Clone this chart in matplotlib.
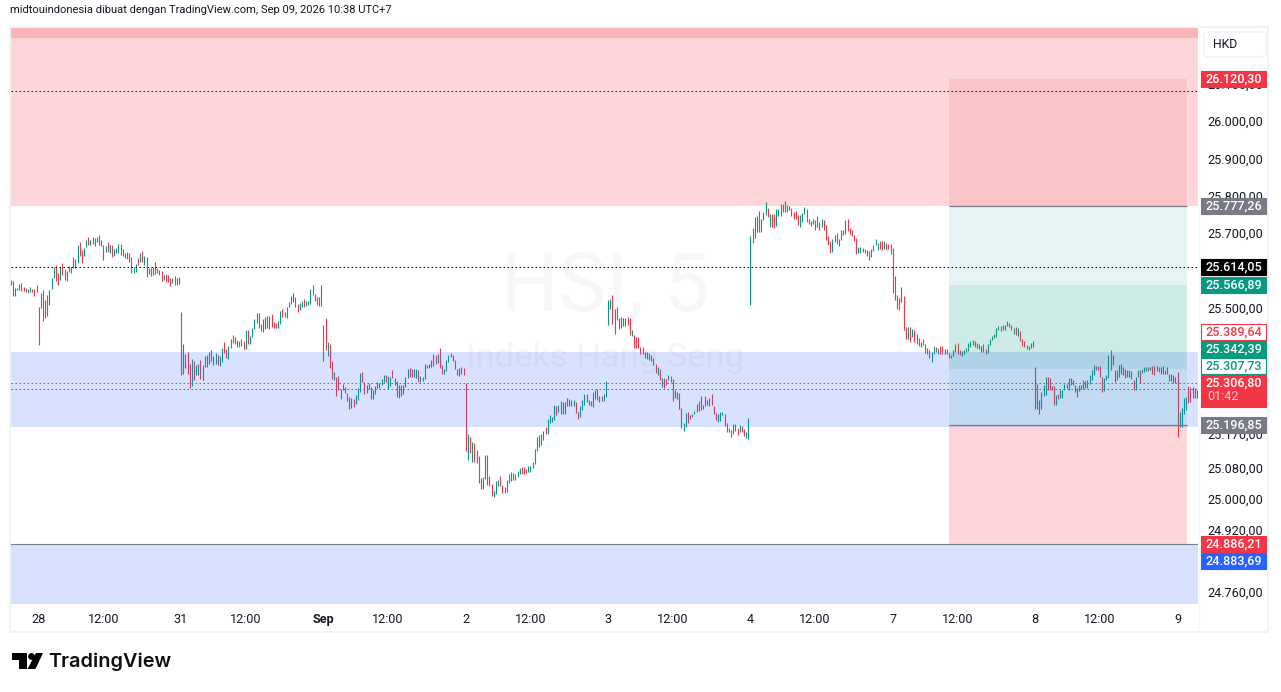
#!/usr/bin/python3

import matplotlib
matplotlib.use("Agg")
import matplotlib.pyplot as plt
from matplotlib.patches import Rectangle, Polygon, Circle, FancyBboxPatch
from matplotlib.transforms import ScaledTranslation

# 5 minute bars as (open, close), one list per session
aug27 = [(25571,25584),(25580,25542),(25542,25564),(25562,25558),(25558,25573),(25576,25556),(25566,25555),
    (25564,25551),(25550,25560),(25552,25566),(25561,25553),(25559,25542),(25553,25571)]

aug28 = [(25513,25412),(25511,25550),(25558,25475),(25483,25532),(25544,25489),(25518,25558),(25560,25589),
    (25588,25618),(25624,25581),(25603,25571),(25584,25619),(25629,25598),(25613,25584),(25581,25608),
    (25620,25604),(25603,25618),(25615,25645),(25616,25640),(25628,25677),(25685,25648),(25664,25629),
    (25648,25669),(25671,25690),(25698,25677),(25677,25690),(25698,25679),(25674,25695),(25685,25698),
    (25703,25677),(25674,25690),(25677,25637),(25658,25674),(25685,25658),(25655,25677),(25677,25645),
    (25648,25666),(25655,25669),(25656,25679),(25679,25650),(25666,25648),(25641,25655),(25658,25640),
    (25656,25632),(25645,25602),(25603,25619),(25606,25626),(25642,25624),(25632,25656),(25661,25632),
    (25624,25648),(25645,25592),(25600,25616),(25616,25595),(25597,25618),(25632,25600),(25616,25603),
    (25597,25611),(25608,25581),(25584,25597),(25599,25579),(25597,25579),(25589,25568),(25576,25589),
    (25595,25571),(25588,25571),(25573,25592)]

aug31 = [(25499,25332),(25335,25415),(25387,25351),(25393,25335),(25362,25297),(25303,25375),(25369,25319),
    (25332,25359),(25332,25362),(25372,25322),(25319,25359),(25354,25383),(25354,25385),(25361,25393),
    (25399,25369),(25358,25383),(25362,25391),(25385,25359),(25356,25383),(25367,25404),(25420,25391),
    (25401,25377),(25375,25409),(25404,25428),(25438,25417),(25433,25415),(25407,25425),(25422,25407),
    (25409,25428),(25422,25401),(25401,25452),(25452,25415),(25415,25436),(25433,25457),(25454,25481),
    (25470,25497),(25497,25457),(25467,25449),(25446,25481),(25454,25486),(25489,25457),(25454,25489),
    (25494,25460),(25473,25457),(25470,25457),(25457,25475),(25467,25502),(25507,25486),(25499,25486),
    (25483,25513),(25513,25526),(25520,25542),(25526,25550),(25539,25513),(25520,25499),(25505,25523),
    (25513,25528),(25534,25513),(25515,25528),(25518,25528),(25520,25560),(25571,25544),(25547,25528),
    (25539,25518),(25539,25515),(25515,25571)]

sep01 = [(25464,25369),(25483,25398),(25382,25419),(25414,25350),(25369,25321),(25319,25340),(25327,25276),
    (25329,25292),(25268,25295),(25308,25292),(25300,25284),(25284,25263),(25274,25242),(25244,25271),
    (25268,25247),(25255,25279),(25266,25297),(25287,25337),(25340,25313),(25313,25281),(25284,25305),
    (25311,25296),(25300,25268),(25268,25292),(25281,25303),(25313,25297),(25297,25311),(25305,25321),
    (25313,25332),(25332,25313),(25294,25329),(25303,25327),(25345,25324),(25305,25324),(25316,25274),
    (25271,25305),(25305,25276),(25281,25305),(25300,25327),(25324,25348),(25350,25327),(25348,25327),
    (25327,25347),(25324,25348),(25345,25313),(25313,25329),(25316,25327),(25321,25361),(25358,25350),
    (25350,25361),(25353,25372),(25387,25356),(25385,25361),(25364,25387),(25403,25350),(25358,25334),
    (25334,25348),(25342,25372),(25366,25385),(25390,25380),(25385,25369),(25372,25348),(25348,25332),
    (25329,25350),(25334,25353),(25350,25332)]

sep02 = [(25310,25130),(25107,25176),(25168,25125),(25101,25154),(25152,25101),(25133,25099),(25117,25046),
    (25030,25059),(25030,25062),(25056,25120),(25120,25040),(25064,25038),(25043,25011),(25009,25025),
    (25017,25051),(25038,25054),(25064,25038),(25040,25019),(25035,25019),(25022,25054),(25046,25070),
    (25051,25075),(25072,25054),(25070,25054),(25062,25078),(25070,25085),(25088,25070),(25088,25070),
    (25083,25072),(25075,25091),(25075,25091),(25085,25101),(25096,25136),(25130,25168),(25141,25173),
    (25146,25176),(25160,25184),(25194,25176),(25176,25215),(25204,25226),(25207,25221),(25213,25252),
    (25250,25226),(25234,25252),(25229,25263),(25260,25229),(25229,25260),(25271,25250),(25250,25268),
    (25266,25250),(25250,25266),(25260,25231),(25234,25215),(25221,25250),(25239,25266),(25252,25281),
    (25281,25260),(25252,25266),(25263,25250),(25247,25287),(25268,25292),(25295,25266),(25260,25276),
    (25276,25263),(25263,25281),(25274,25316)]

sep03 = [(25464,25531),(25507,25533),(25544,25467),(25440,25507),(25512,25478),(25483,25454),(25456,25485),
    (25462,25483),(25462,25483),(25485,25464),(25483,25438),(25435,25451),(25438,25403),(25432,25403),
    (25432,25403),(25406,25387),(25406,25387),(25377,25393),(25374,25393),(25372,25390),(25369,25385),
    (25377,25358),(25361,25337),(25332,25353),(25348,25319),(25300,25324),(25324,25297),(25321,25305),
    (25319,25332),(25329,25313),(25321,25263),(25271,25292),(25268,25287),(25284,25242),(25244,25191),
    (25183,25205),(25194,25231),(25234,25205),(25226,25215),(25221,25229),(25229,25236),(25234,25255),
    (25263,25236),(25276,25239),(25242,25252),(25276,25250),(25252,25266),(25250,25271),(25281,25252),
    (25250,25229),(25231,25213),(25207,25229),(25210,25234),(25226,25234),(25229,25197),(25205,25181),
    (25191,25181),(25186,25168),(25176,25202),(25183,25202),(25191,25173),(25181,25199),(25197,25181),
    (25189,25170),(25165,25181),(25162,25218)]

sep04 = [(25517,25700),(25721,25682),(25695,25750),(25711,25753),(25766,25711),(25711,25745),(25743,25764),
    (25756,25790),(25774,25750),(25724,25758),(25758,25724),(25758,25721),(25727,25772),(25753,25772),
    (25753,25785),(25785,25764),(25764,25793),(25782,25764),(25769,25780),(25774,25753),(25764,25745),
    (25766,25745),(25756,25729),(25724,25756),(25737,25761),(25758,25777),(25772,25737),(25745,25732),
    (25727,25740),(25732,25745),(25743,25716),(25724,25753),(25737,25716),(25724,25745),(25743,25716),
    (25729,25690),(25700,25676),(25687,25655),(25658,25692),(25684,25703),(25708,25679),(25674,25692),
    (25690,25716),(25716,25703),(25705,25743),(25745,25713),(25721,25705),(25716,25700),(25703,25687),
    (25695,25652),(25655,25671),(25655,25671),(25658,25668),(25666,25655),(25663,25647),(25660,25637),
    (25645,25666),(25660,25676),(25676,25692),(25663,25682),(25687,25666),(25687,25663),(25666,25687),
    (25682,25666),(25679,25666),(25679,25652)]

sep07 = [(25668,25549),(25594,25531),(25544,25507),(25536,25504),(25525,25565),(25541,25451),(25459,25427),
    (25427,25459),(25459,25419),(25433,25454),(25451,25419),(25441,25414),(25430,25409),(25406,25419),
    (25427,25411),(25414,25390),(25403,25388),(25398,25377),(25366,25393),(25388,25409),(25406,25393),
    (25388,25403),(25409,25388),(25409,25388),(25388,25401),(25401,25388),(25390,25377),(25377,25385),
    (25382,25398),(25393,25414),(25417,25388),(25398,25385),(25382,25395),(25388,25398),(25393,25403),
    (25395,25417),(25406,25422),(25411,25425),(25422,25406),(25417,25403),(25414,25401),(25393,25409),
    (25414,25393),(25401,25388),(25390,25414),(25411,25427),(25425,25435),(25430,25441),(25433,25456),
    (25451,25462),(25462,25448),(25451,25464),(25451,25464),(25462,25475),(25470,25459),(25464,25451),
    (25441,25456),(25459,25438),(25435,25456),(25448,25422),(25427,25409),(25422,25406),(25401,25411),
    (25409,25398),(25403,25417),(25406,25422)]

sep08 = [(25353,25242),(25308,25242),(25229,25266),(25242,25287),(25276,25305),(25279,25326),(25326,25292),
    (25323,25292),(25303,25292),(25303,25252),(25252,25279),(25281,25268),(25271,25292),(25271,25292),
    (25292,25308),(25297,25308),(25292,25324),(25305,25324),(25319,25305),(25305,25287),(25297,25274),
    (25289,25305),(25295,25305),(25319,25295),(25297,25316),(25297,25319),(25308,25332),(25319,25345),
    (25332,25358),(25356,25345),(25356,25345),(25356,25326),(25327,25287),(25289,25323),(25319,25332),
    (25323,25385),(25398,25345),(25385,25358),(25345,25314),(25319,25345),(25327,25358),(25336,25361),
    (25354,25332),(25347,25323),(25345,25327),(25327,25345),(25342,25321),(25319,25292),(25292,25327),
    (25327,25345),(25345,25311),(25338,25349),(25341,25354),(25342,25354),(25352,25342),(25345,25354),
    (25356,25336),(25357,25332),(25343,25356),(25354,25339),(25352,25336),(25356,25336),(25336,25345),
    (25354,25336),(25336,25317),(25317,25334),(25332,25310),(25311,25326)]

sep09 = [(25341,25167),(25193,25235),(25195,25244),(25230,25270),(25239,25274),(25303,25259),(25301,25261),
    (25301,25270),(25297,25270),(25270,25292)]

sessions = [aug28, aug31, sep01, sep02, sep03, sep04, sep07, sep08]
session_len = 66

time_labels = ["28", "12:00", "31", "12:00", "Sep", "12:00", "2", "12:00", "3", "12:00", "4", "12:00",
    "7", "12:00", "8", "12:00", "9"]
price_ticks = [26100, 26000, 25900, 25800, 25700, 25500, 25170, 25080, 25000, 24920, 24760]

# price levels of the drawings
zone_top = 25777.26
zone_mid_hi = 25389.64
zone_mid_lo = 25191
zone_low_hi = 24886.21
tool_target = 26120.30
tool_entry_hi = 25777.26
tool_inner_hi = 25566.89
tool_inner_lo = 25342.39
tool_entry_lo = 25196.85
tool_stop = 24886.21
dot_top = 26087
dot_black = 25614.05
dot_red = 25307.73
dot_blue = 25290

# right hand labels: text, centre row in pixels, fill, edge, text colour
price_boxes = [
    ("26.120,30", 79, "#F23645", "#F23645", "white"),
    ("25.777,26", 206, "#787B86", "#787B86", "white"),
    ("25.614,05", 267, "#000000", "#000000", "white"),
    ("25.566,89", 285, "#089981", "#089981", "white"),
    ("25.389,64", 332, "white", "#F23645", "#F23645"),
    ("25.342,39", 349, "#089981", "#089981", "white"),
    ("25.307,73", 366, "white", "#089981", "#089981"),
    ("25.196,85", 425, "#787B86", "#787B86", "white"),
    ("24.886,21", 544, "#F23645", "#F23645", "white"),
    ("24.883,69", 561, "#2962FF", "#2962FF", "white"),
]

UP = "#089981"
DOWN = "#F23645"
TEXT = "#131722"
LABEL_SIZE = 9.1

plt.rcParams["font.family"] = ["Roboto", "DejaVu Sans"]

fig = plt.figure(figsize=(12.81, 6.92), dpi=100)
fig.patch.set_facecolor("white")


def fmt_price(v):
    return f"{v:,.2f}".replace(",", "#").replace(".", ",").replace("#", ".")


# candles
ax = fig.add_axes([11 / 1281, 1 - 604 / 692, 1187 / 1281, 576 / 692])
ax.set_xlim(-12.84, 537.5)
ax.set_ylim(24725, 26252)
ax.set_yticks([])
for s in ax.spines.values():
    s.set_visible(False)

xs, lows, highs, cols = [], [], [], []


def add_bars(bars, start, step):
    for i, (o, c) in enumerate(bars):
        xs.append(start + i * step)
        lows.append(min(o, c))
        highs.append(max(o, c))
        cols.append(UP if c >= o else DOWN)


add_bars(aug27, -13, 1)
for n, day in enumerate(sessions):
    add_bars(day, n * session_len, session_len / len(day))
add_bars(sep09, len(sessions) * session_len, 1)
ax.vlines(xs, lows, highs, colors=cols, linewidth=0.8)

ax.set_xticks([(i // 2) * session_len + (i % 2) * 30 for i in range(len(time_labels))], time_labels)
ax.tick_params(axis="x", length=0, pad=6.3, labelsize=LABEL_SIZE, labelcolor=TEXT)
ax.get_xticklabels()[4].set_fontweight("bold")

wm_x = (605 - 11) / 1187
ax.text(wm_x, (604 - 289) / 576, "HSI, 5", ha="center", va="center", fontsize=58,
    color=TEXT, alpha=0.03, transform=ax.transAxes)
ax.text(wm_x, (604 - 358) / 576, "Indeks Hang Seng", ha="center", va="center", fontsize=24.8,
    color=TEXT, alpha=0.04, transform=ax.transAxes)

# zones and the position tool sit over the candles, on the price scale
ax2 = ax.twinx()
ax2.set_yscale("log")
ax2.set_ylim(24732, 26258)
for s in ax2.spines.values():
    s.set_visible(False)
ax2.set_yticks(price_ticks, [fmt_price(v) for v in price_ticks])
ax2.minorticks_off()
ax2.tick_params(axis="y", length=0, pad=6.5, labelsize=LABEL_SIZE, labelcolor=TEXT)
lift = ScaledTranslation(0, 1.8 / 100, fig.dpi_scale_trans)
for lbl in ax2.get_yticklabels():
    lbl.set_transform(lbl.get_transform() + lift)

ax2.axhspan(zone_top, 26258, color=DOWN, alpha=0.2, lw=0)
ax2.axhspan(26230, 26258, color="#FF6B78", alpha=0.32, lw=0)
ax2.axhspan(zone_mid_lo, zone_mid_hi, color="#2962FF", alpha=0.18, lw=0)
ax2.axhspan(24732, zone_low_hi, color="#2962FF", alpha=0.18, lw=0)

tool_l, tool_r = 422, 532.4
ax2.fill_between([tool_l, tool_r], tool_entry_hi, tool_target, color=DOWN, alpha=0.1, lw=0)
ax2.fill_between([tool_l, tool_r], tool_entry_lo, tool_entry_hi, color=UP, alpha=0.1, lw=0)
ax2.fill_between([tool_l, tool_r], tool_inner_lo, tool_inner_hi, color=UP, alpha=0.1, lw=0)
ax2.fill_between([tool_l, tool_r], tool_stop, tool_entry_lo, color=DOWN, alpha=0.2, lw=0)
ax2.hlines([tool_entry_hi, tool_entry_lo], tool_l, tool_r, color="#787B86", lw=0.9)
ax2.axhline(tool_stop, color="#787B86", lw=0.8)

dots = (0, (1.5, 2.5))
ax2.axhline(dot_top, color=TEXT, lw=0.72, ls=dots)
ax2.axhline(dot_black, color="black", lw=0.72, ls=dots)
ax2.axhline(dot_red, color="#D8336A", lw=0.72, ls=dots)
ax2.axhline(dot_blue, color="#2962FF", lw=0.72, ls=dots)

# pane furniture in pixel coordinates
top = fig.add_axes([0, 0, 1, 1], facecolor="none")
top.set_xlim(0, 1281)
top.set_ylim(692, 0)
top.axis("off")

top.add_patch(Rectangle((10, 27), 1258, 605, fill=False, ec="#F2F3F5", lw=1.4))
top.plot([1198.5, 1198.5], [27, 632], color="#F7F7F8", lw=0.8)
top.add_patch(FancyBboxPatch((1204, 32), 62, 25, boxstyle="round,pad=0,rounding_size=4",
    fc="white", ec="#F0F3FA", lw=1))
top.text(1212.5, 44.5, "HKD", fontsize=8.8, color=TEXT, va="center", ha="left")

for label, row, fc, ec, tc in price_boxes:
    top.add_patch(Rectangle((1201, row - 8), 65, 16, fc=fc, ec=ec, lw=0.8))
    top.text(1234, row, label, fontsize=LABEL_SIZE, color=tc, ha="center", va="center", fontweight="medium")

top.add_patch(Rectangle((1201, 375), 65, 32, fc=DOWN, ec=DOWN, lw=0.8))
top.text(1234, 383, "25.306,80", fontsize=LABEL_SIZE, color="white", ha="center", va="center", fontweight="medium")
top.text(1207.5, 397, "01:42", fontsize=LABEL_SIZE, color="white", alpha=0.75, ha="left", va="center")

top.text(10, 10, "midtouindonesia dibuat dengan TradingView.com, Sep 09, 2026 10:38 UTC+7",
    fontsize=8.05, color=TEXT, ha="left", va="center")

# logo
top.add_patch(Polygon([(12, 653), (27, 653), (27, 669), (19, 669), (19, 660), (12, 660)], fc="black", ec="none"))
top.add_patch(Circle((31.5, 656.5), 3.4, fc="black", ec="none"))
top.add_patch(Polygon([(36, 653), (43, 653), (35.5, 669), (27.5, 669)], fc="black", ec="none"))
top.text(48, 661.5, "TradingView", family="Inter", fontsize=14.3, fontweight="semibold", color="#0F0F0F",
    ha="left", va="center")

fig.savefig("out.png", dpi=100)
